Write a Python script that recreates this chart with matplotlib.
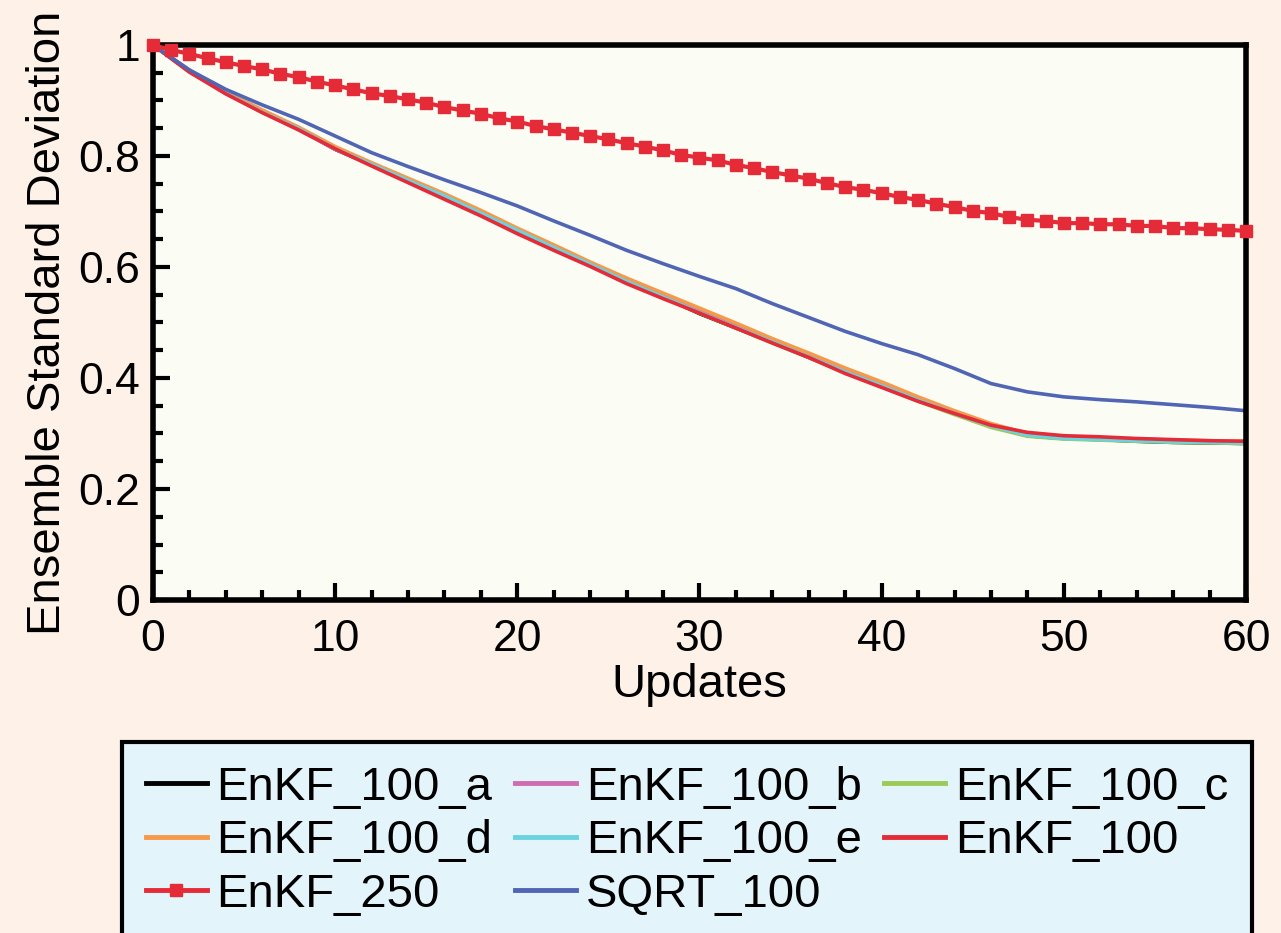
import matplotlib.pyplot as plt
from matplotlib.ticker import MultipleLocator

plt.rcParams['font.family'] = ['Liberation Sans', 'DejaVu Sans']

# updates (every 2nd step for the thin curves, every step for EnKF_250)
updates = list(range(0, 61, 2))
updates_250 = list(range(0, 61))

enkf_100_a = [1.0, .953, .913, .880, .849, .812, .784, .754, .725, .694, .663, .632, .603, .574, .546, .516,
              .490, .464, .437, .410, .385, .360, .336, .313, .296, .291, .289, .286, .284, .283, .282]
enkf_100_b = [1.0, .953, .912, .879, .847, .812, .784, .755, .727, .697, .666, .637, .606, .579, .550, .522,
              .495, .467, .440, .412, .389, .364, .339, .316, .298, .293, .291, .289, .287, .285, .284]
enkf_100_c = [1.0, .954, .914, .881, .850, .815, .786, .758, .730, .698, .665, .634, .604, .574, .545, .517,
              .490, .463, .437, .410, .384, .358, .334, .311, .295, .290, .288, .286, .284, .283, .282]
enkf_100_d = [1.0, .955, .916, .883, .852, .817, .788, .760, .732, .702, .670, .640, .609, .580, .553, .526,
              .499, .471, .445, .418, .393, .366, .341, .318, .300, .294, .292, .290, .288, .287, .286]
enkf_100_e = [1.0, .952, .913, .879, .849, .813, .785, .756, .728, .697, .666, .635, .605, .574, .546, .518,
              .491, .465, .438, .411, .386, .360, .336, .314, .297, .291, .289, .287, .285, .284, .283]
enkf_100 = [1.0, .951, .912, .878, .847, .813, .782, .752, .722, .692, .660, .630, .601, .570, .543, .517,
            .490, .463, .437, .408, .383, .358, .336, .315, .302, .296, .294, .291, .289, .287, .286]
sqrt_100 = [1.0, .955, .920, .892, .866, .836, .806, .781, .757, .734, .710, .683, .657, .630, .606, .583,
            .561, .534, .509, .484, .462, .442, .417, .390, .375, .366, .361, .357, .352, .347, .341]
enkf_250 = [1.0, .991, .984, .976, .969, .962, .956, .948, .942, .934, .927, .920, .913, .908, .902, .896,
            .888, .882, .876, .868, .862, .854, .848, .842, .836, .830, .823, .817, .810, .802, .797, .792,
            .784, .778, .771, .765, .759, .751, .744, .739, .733, .726, .721, .714, .708, .701, .697, .690,
            .685, .683, .679, .679, .677, .677, .674, .674, .670, .670, .668, .667, .665]

fig = plt.figure(figsize=(12.81, 9.33), dpi=100, facecolor='#fdf1e8')
ax = fig.add_axes([0.1194, 0.3569, 0.8533, 0.5949])
ax.set_facecolor('#fbfdf5')

lw = 2.6
la, = ax.plot(updates, enkf_100_a, color='black', lw=lw, label='EnKF_100_a')
lb, = ax.plot(updates, enkf_100_b, color='#cf6db3', lw=lw, label='EnKF_100_b')
lc, = ax.plot(updates, enkf_100_c, color='#9acb58', lw=lw, label='EnKF_100_c')
ld, = ax.plot(updates, enkf_100_d, color='#f7994a', lw=lw, label='EnKF_100_d')
le, = ax.plot(updates, enkf_100_e, color='#6ad3df', lw=lw, label='EnKF_100_e')
l100, = ax.plot(updates, enkf_100, color='#e52a38', lw=lw, label='EnKF_100')
lsq, = ax.plot(updates, sqrt_100, color='#5066b4', lw=lw, label='SQRT_100')
l250, = ax.plot(updates_250, enkf_250, color='#e52a38', lw=3, marker='s', ms=8.5,
                label='EnKF_250', clip_on=False, zorder=5)

ax.set_xlim(0, 60)
ax.set_ylim(0, 1)
ax.set_xticks(range(0, 61, 10))
ax.set_yticks([0, 0.2, 0.4, 0.6, 0.8, 1])
ax.set_yticklabels(['0', '0.2', '0.4', '0.6', '0.8', '1'])
ax.xaxis.set_minor_locator(MultipleLocator(2))
ax.yaxis.set_minor_locator(MultipleLocator(0.05))
ax.tick_params(which='both', direction='in', top=False, right=False, width=3,
               labelsize=32, colors='black')
ax.tick_params(which='major', length=12)
ax.tick_params(which='minor', length=7)
ax.tick_params(axis='x', which='major', pad=14)
ax.tick_params(axis='y', which='major', pad=9)
for s in ax.spines.values():
    s.set_linewidth(4)

ax.set_xlabel('Updates', fontsize=34, labelpad=2)
ax.set_ylabel('Ensemble Standard Deviation', fontsize=34, labelpad=6)

# legend below the plot, filled row by row
handles = [la, ld, l250, lb, le, lsq, lc, l100]
leg = fig.legend(handles=handles, loc='upper left', ncol=3, mode='expand',
                 bbox_to_anchor=(0.0952, 0.0, 0.882, 0.2047), borderaxespad=0,
                 fontsize=34, handlelength=1.3, handletextpad=0.2, labelspacing=0.2,
                 borderpad=0.5, fancybox=False, facecolor='#e4f4fb',
                 edgecolor='black', framealpha=1)
leg.get_frame().set_linewidth(3)
for line in leg.get_lines():
    line.set_linewidth(3.5)

fig.savefig('out.png', dpi=100, facecolor=fig.get_facecolor())
